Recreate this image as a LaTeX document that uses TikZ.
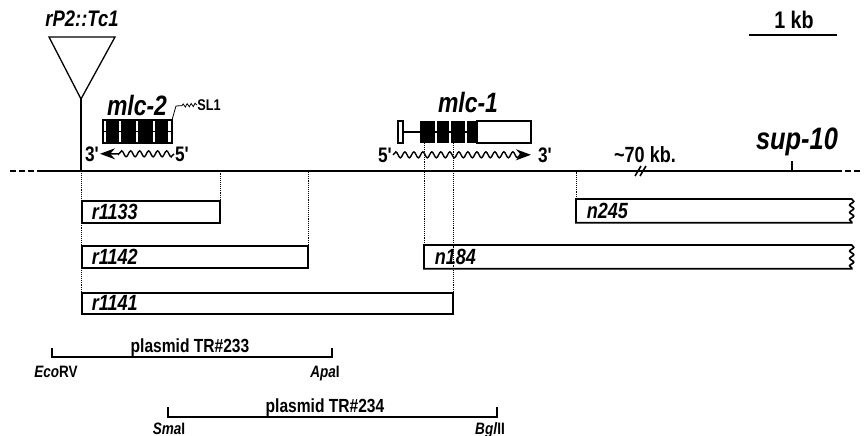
\documentclass[tikz,border=0pt]{standalone}
\usepackage{fontspec}
\setmainfont[FakeStretch=0.82]{Liberation Sans}
\newfontfamily\primefont[FakeStretch=0.82, Ligatures=TeXOff]{Liberation Sans}
\usetikzlibrary{arrows.meta,decorations.pathmorphing}

\begin{document}
\begin{tikzpicture}[x=1pt, y=-1pt,
    chrom/.style={line width=2.4pt},
    frag/.style={draw, line width=1.7pt, minimum height=22pt, inner xsep=10pt, inner ysep=0pt, text width=#1, align=left, anchor=north west, font={\fontsize{22}{24}\selectfont\bfseries\itshape}},
    openfrag/.style={frag=#1, draw=none},
    fragline/.style={line width=1.7pt},
    guide/.style={densely dotted, line width=0.9pt},
    gene/.style={line width=1.3pt},
    intron/.style={line width=1.2pt},
    transcript/.style={line width=1.4pt, -{Stealth[length=15pt, width=11pt]}, decorate, decoration={snake, amplitude=3pt, segment length=9pt, post length=16pt}},
    genelabel/.style={anchor=base, inner sep=0pt, font={\fontsize{28}{30}\selectfont\bfseries\itshape}},
    prime/.style={anchor=base, inner sep=1pt, font={\primefont\fontsize{21}{23}\selectfont\bfseries}},
    plasmid/.style={anchor=base, inner sep=0pt, font={\fontsize{19}{21}\selectfont\bfseries}},
    site/.style={anchor=base, inner sep=0pt, font={\fontsize{16.5}{18}\selectfont\bfseries}},
    bracket/.style={line width=2pt},
    scalebar/.style={line width=2pt}
  ]
    \useasboundingbox (0,0) rectangle (864,436);

    % chromosome
    \coordinate (chromL) at (10,171);
    \coordinate (chromA) at (40,171);
    \coordinate (chromB) at (836,171);
    \coordinate (chromR) at (862,171);
    \draw[chrom] (chromA) -- (chromB);
    \draw[chrom, dash pattern=on 6pt off 3pt] (chromL) -- (chromA);
    \draw[chrom, dash pattern=on 6pt off 3pt] (chromB) -- (chromR);
    \draw[line width=1.6pt] (635,176) -- (641,166) (640,176) -- (646,166);
    \node[prime, font={\fontsize{22}{24}\selectfont\bfseries}] (gap) at (645,162) {\char`\~70 kb.};
    \coordinate (sup) at (792,171);
    \draw[line width=1.4pt] (sup) -- ++(0,-10);
    \node[genelabel, font={\fontsize{31}{33}\selectfont\bfseries\itshape}] (suplabel) at (797,149) {sup-10};

    % scale
    \coordinate (kbL) at (749,35);
    \coordinate (kbR) at (837,35);
    \draw[scalebar] (kbL) -- (kbR);
    \node[prime, font={\fontsize{24}{26}\selectfont\bfseries}] (kb) at (794,29) {1 kb};

    % Tc1 insertion
    \coordinate (tcapex) at (81,99);
    \draw[line width=1.3pt] (49,37) -- (115,37) -- (tcapex) -- cycle;
    \draw[line width=1.2pt] (tcapex) -- (tcapex |- chromA);
    \node[genelabel, font={\fontsize{22.5}{24}\selectfont\bfseries\itshape}] (tclabel) at (82,27) {rP2::Tc1};

    % mlc-2
    \node[genelabel] (mlctwo) at (137,115) {mlc-2};
    \draw[intron] (103,131.5) -- (172,131.5);
    \fill (106,120) rectangle (119,143);
    \fill (121,120) rectangle (136,143);
    \fill (138,120) rectangle (153,143);
    \fill (155,120) rectangle (168,143);
    \draw[gene] (103,120) rectangle (172,143);
    \coordinate (sltip) at (172,120);
    \node[site, font={\fontsize{15.5}{17}\selectfont\bfseries}] (sl1) at (209,110) {SL1};
    \draw[line width=0.8pt] (sltip) -- ++(4,-14) decorate[decoration={snake, amplitude=1.6pt, segment length=4pt, pre length=6pt}] {-- (sl1.west)};
    \node[prime] (m2three) at (92,161) {3'};
    \node[prime] (m2five) at (182,161) {5'};
    \draw[transcript] (m2five.west) -- (m2three.east);

    % mlc-1
    \node[genelabel] (mlcone) at (468,112) {mlc-1};
    \coordinate (geneoneb) at (0,143);
    \draw[intron] (403,132) -- (477,132);
    \draw[gene] (398,121) rectangle (403,143);
    \fill (420,121) rectangle (435,143);
    \fill (437,121) rectangle (449,143);
    \fill (451,121) rectangle (465,143);
    \fill (467,121) rectangle (477,143);
    \draw[gene] (477,121) rectangle (531,143);
    \node[prime] (m1five) at (385,162) {5'};
    \node[prime] (m1three) at (545,162) {3'};
    \draw[transcript, shorten >=6pt] (m1five.east) -- (m1three.west);

    % deletions
    \node[frag=118pt] (r1133) at (81,200) {r1133};
    \node[frag=206pt] (r1142) at (81,245) {r1142};
    \node[frag=351pt, minimum height=21pt] (r1141) at (81,292) {r1141};
    \node[openfrag=406pt] (n184) at (424,245) {n184};
    \node[openfrag=254pt] (n245) at (576,199) {n245};
    \foreach \f in {n184, n245}
      \draw[fragline] (\f.north west) -- (\f.north east)
        decorate[decoration={snake, amplitude=2pt, segment length=7.4pt}] {-- (\f.south east)}
        -- (\f.south west) -- cycle;

    \draw[guide] (r1141.north west) -- (r1141.north west |- chromA);
    \draw[guide] (r1133.north east) -- (r1133.north east |- chromA);
    \draw[guide] (r1142.north east) -- (r1142.north east |- chromA);
    \draw[guide] (n245.north west) -- (n245.north west |- chromA);
    \draw[guide] (n184.north west) -- (n184.north west |- geneoneb);
    \draw[guide] (r1141.north east) -- (r1141.north east |- geneoneb);

    % plasmids
    \coordinate (ecorv) at (52,357);
    \coordinate (apai) at (332,357);
    \draw[bracket] ([yshift=9pt]ecorv) -- (ecorv) -- (apai) -- ([yshift=9pt]apai);
    \node[plasmid] (tr233) at (190,352) {plasmid TR\#233};
    \node[site] (ecorvlab) at (56,377) {\textit{Eco}RV};
    \node[site] (apailab) at (325,377) {\textit{Apa}I};

    \coordinate (smai) at (168,417);
    \coordinate (bglii) at (497,417);
    \draw[bracket] ([yshift=10pt]smai) -- (smai) -- (bglii) -- ([yshift=10pt]bglii);
    \node[plasmid] (tr234) at (325,412) {plasmid TR\#234};
    \node[site] (smailab) at (169,434) {\textit{Sma}I};
    \node[site] (bgliilab) at (490,434) {\textit{Bgl}II};
  \end{tikzpicture}
\end{document}
